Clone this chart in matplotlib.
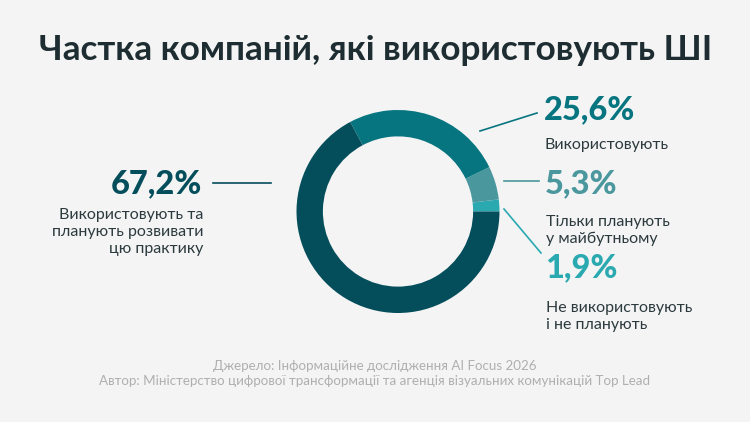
import matplotlib
matplotlib.use('Agg')
import matplotlib.pyplot as plt
from matplotlib.lines import Line2D

plt.rcParams['font.family'] = ['Lato', 'Noto Sans', 'DejaVu Sans']

# -- Data --------------------------------------------------------------
values = [1.9, 5.3, 25.6, 67.2]
pct_labels = ["1,9%", "5,3%", "25,6%", "67,2%"]
desc_labels = ["Не використовують\nі не планують",
               "Тільки планують\nу майбутньому",
               "Використовують",
               "Використовують та\nпланують розвивати\nцю практику"]

# -- Colors ------------------------------------------------------------
C_BG = "#f4f4f4"
C_TITLE = "#1d2d31"
C_TEXT = "#2c3a3e"
C_NOTE = "#afafaf"
slice_colors = ["#2aa9b1", "#4a979d", "#077580", "#044e5c"]

W, H = 750, 422


def px(x, y):
    return x / W, 1 - y / H


fig = plt.figure(figsize=(7.5, 4.22), dpi=100, facecolor=C_BG)

fig.text(*px(376, 50), "Частка компаній, які використовують ШІ",
         ha='center', va='center', fontsize=25.3, fontweight='bold', color=C_TITLE)

# -- Donut -------------------------------------------------------------
cx, cy, r = 398, 211.5, 101.5
ax = fig.add_axes([(cx - r) / W, 1 - (cy + r) / H, 2 * r / W, 2 * r / H])
ax.pie(values, colors=slice_colors, startangle=0, counterclock=True,
       radius=1.0, wedgeprops=dict(width=0.26, linewidth=0))
ax.set_xlim(-1, 1)
ax.set_ylim(-1, 1)
ax.set_aspect('equal')
ax.axis('off')

# -- Labels ------------------------------------------------------------
# (percent pos, description pos, align, leader line)
layout = [
    ((545, 268), (546, 301), 'left', ((504, 209), (541, 253))),
    ((545, 184), (546, 215), 'left', ((504, 181), (539, 181))),
    ((544, 110), (545, 138), 'left', ((480, 131), (537, 113))),
    ((202, 184), (203, 208), 'right', ((213, 183), (271, 183))),
]

for i, (ppos, dpos, ha, line) in enumerate(layout):
    fig.text(*px(*ppos), pct_labels[i], ha=ha, va='center', fontsize=23.5,
             fontweight='black', color=slice_colors[i])
    fig.text(*px(*dpos), desc_labels[i], ha=ha, va='top', fontsize=11.5,
             color=C_TEXT, linespacing=1.25)
    (x0, y0), (x1, y1) = line
    fx0, fy0 = px(x0, y0)
    fx1, fy1 = px(x1, y1)
    fig.add_artist(Line2D([fx0, fx1], [fy0, fy1], color=slice_colors[i],
                          linewidth=1.2, transform=fig.transFigure))

# -- Source ------------------------------------------------------------
fig.text(*px(375, 366), "Джерело: Інформаційне дослідження AI Focus 2026",
         ha='center', va='center', fontsize=9.6, color=C_NOTE)
fig.text(*px(375, 381),
         "Автор: Міністерство цифрової трансформації та агенція візуальних комунікацій Top Lead",
         ha='center', va='center', fontsize=9.6, color=C_NOTE)

plt.savefig("out.png", dpi=100, facecolor=C_BG)
